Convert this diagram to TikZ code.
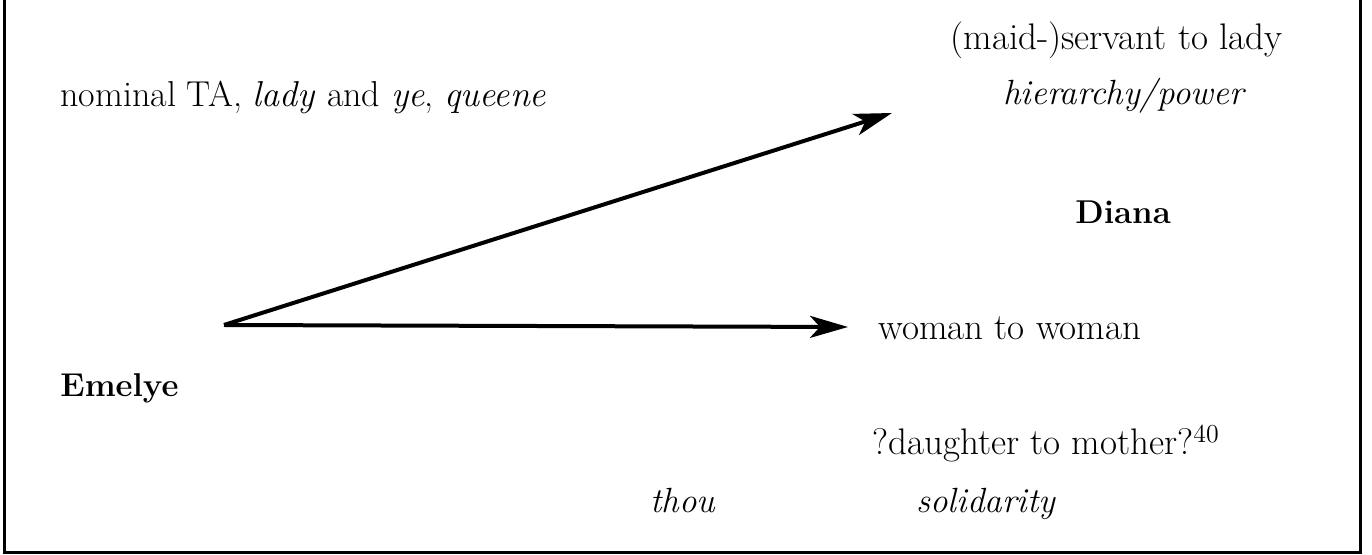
\documentclass[tikz,border=0pt]{standalone}
\usetikzlibrary{arrows.meta}
\begin{document}
\begin{tikzpicture}[x=0.5pt,y=-0.5pt,
  lbl/.style={anchor=base west,inner sep=0pt,font=\fontsize{18.5}{22}\selectfont},
  itlbl/.style={lbl,font=\fontsize{17.5}{21}\selectfont\itshape},
  bflbl/.style={lbl,font=\fontsize{16.5}{20}\selectfont\bfseries},
  arr/.style={line width=2pt,-{Stealth[length=19pt,width=11pt,inset=5pt]}},
  frame/.style={line width=1.5pt}]
\useasboundingbox (0,0) rectangle (1372,555);
\draw[frame] (4,-5) -- (4,553) -- (1360,553) -- (1360,-5);
\node[lbl,font=\fontsize{18}{22}\selectfont] (nom) at (60,107) {nominal TA, \textit{lady} and \textit{ye}, \textit{queene}};
\node[lbl] (maid) at (950,50) {(maid-)servant to lady};
\node[itlbl] (hier) at (1003,105) {hierarchy/power};
\node[bflbl] (diana) at (1075,224) {Diana};
\node[lbl] (woman) at (878,340) {woman to woman};
\node[bflbl] (emelye) at (60,397) {Emelye};
\node[lbl] (daughter) at (872,455) {?daughter to mother?\textsuperscript{40}};
\node[itlbl] (thou) at (650,513) {thou};
\node[itlbl] (solid) at (916,513) {solidarity};
\coordinate (origin) at (224,325);
\coordinate (tipup) at (892,113);
\coordinate (tipright) at (848,327);
\draw[arr] (origin) -- (tipup);
\draw[arr] (origin) -- (tipright);
\end{tikzpicture}
\end{document}
